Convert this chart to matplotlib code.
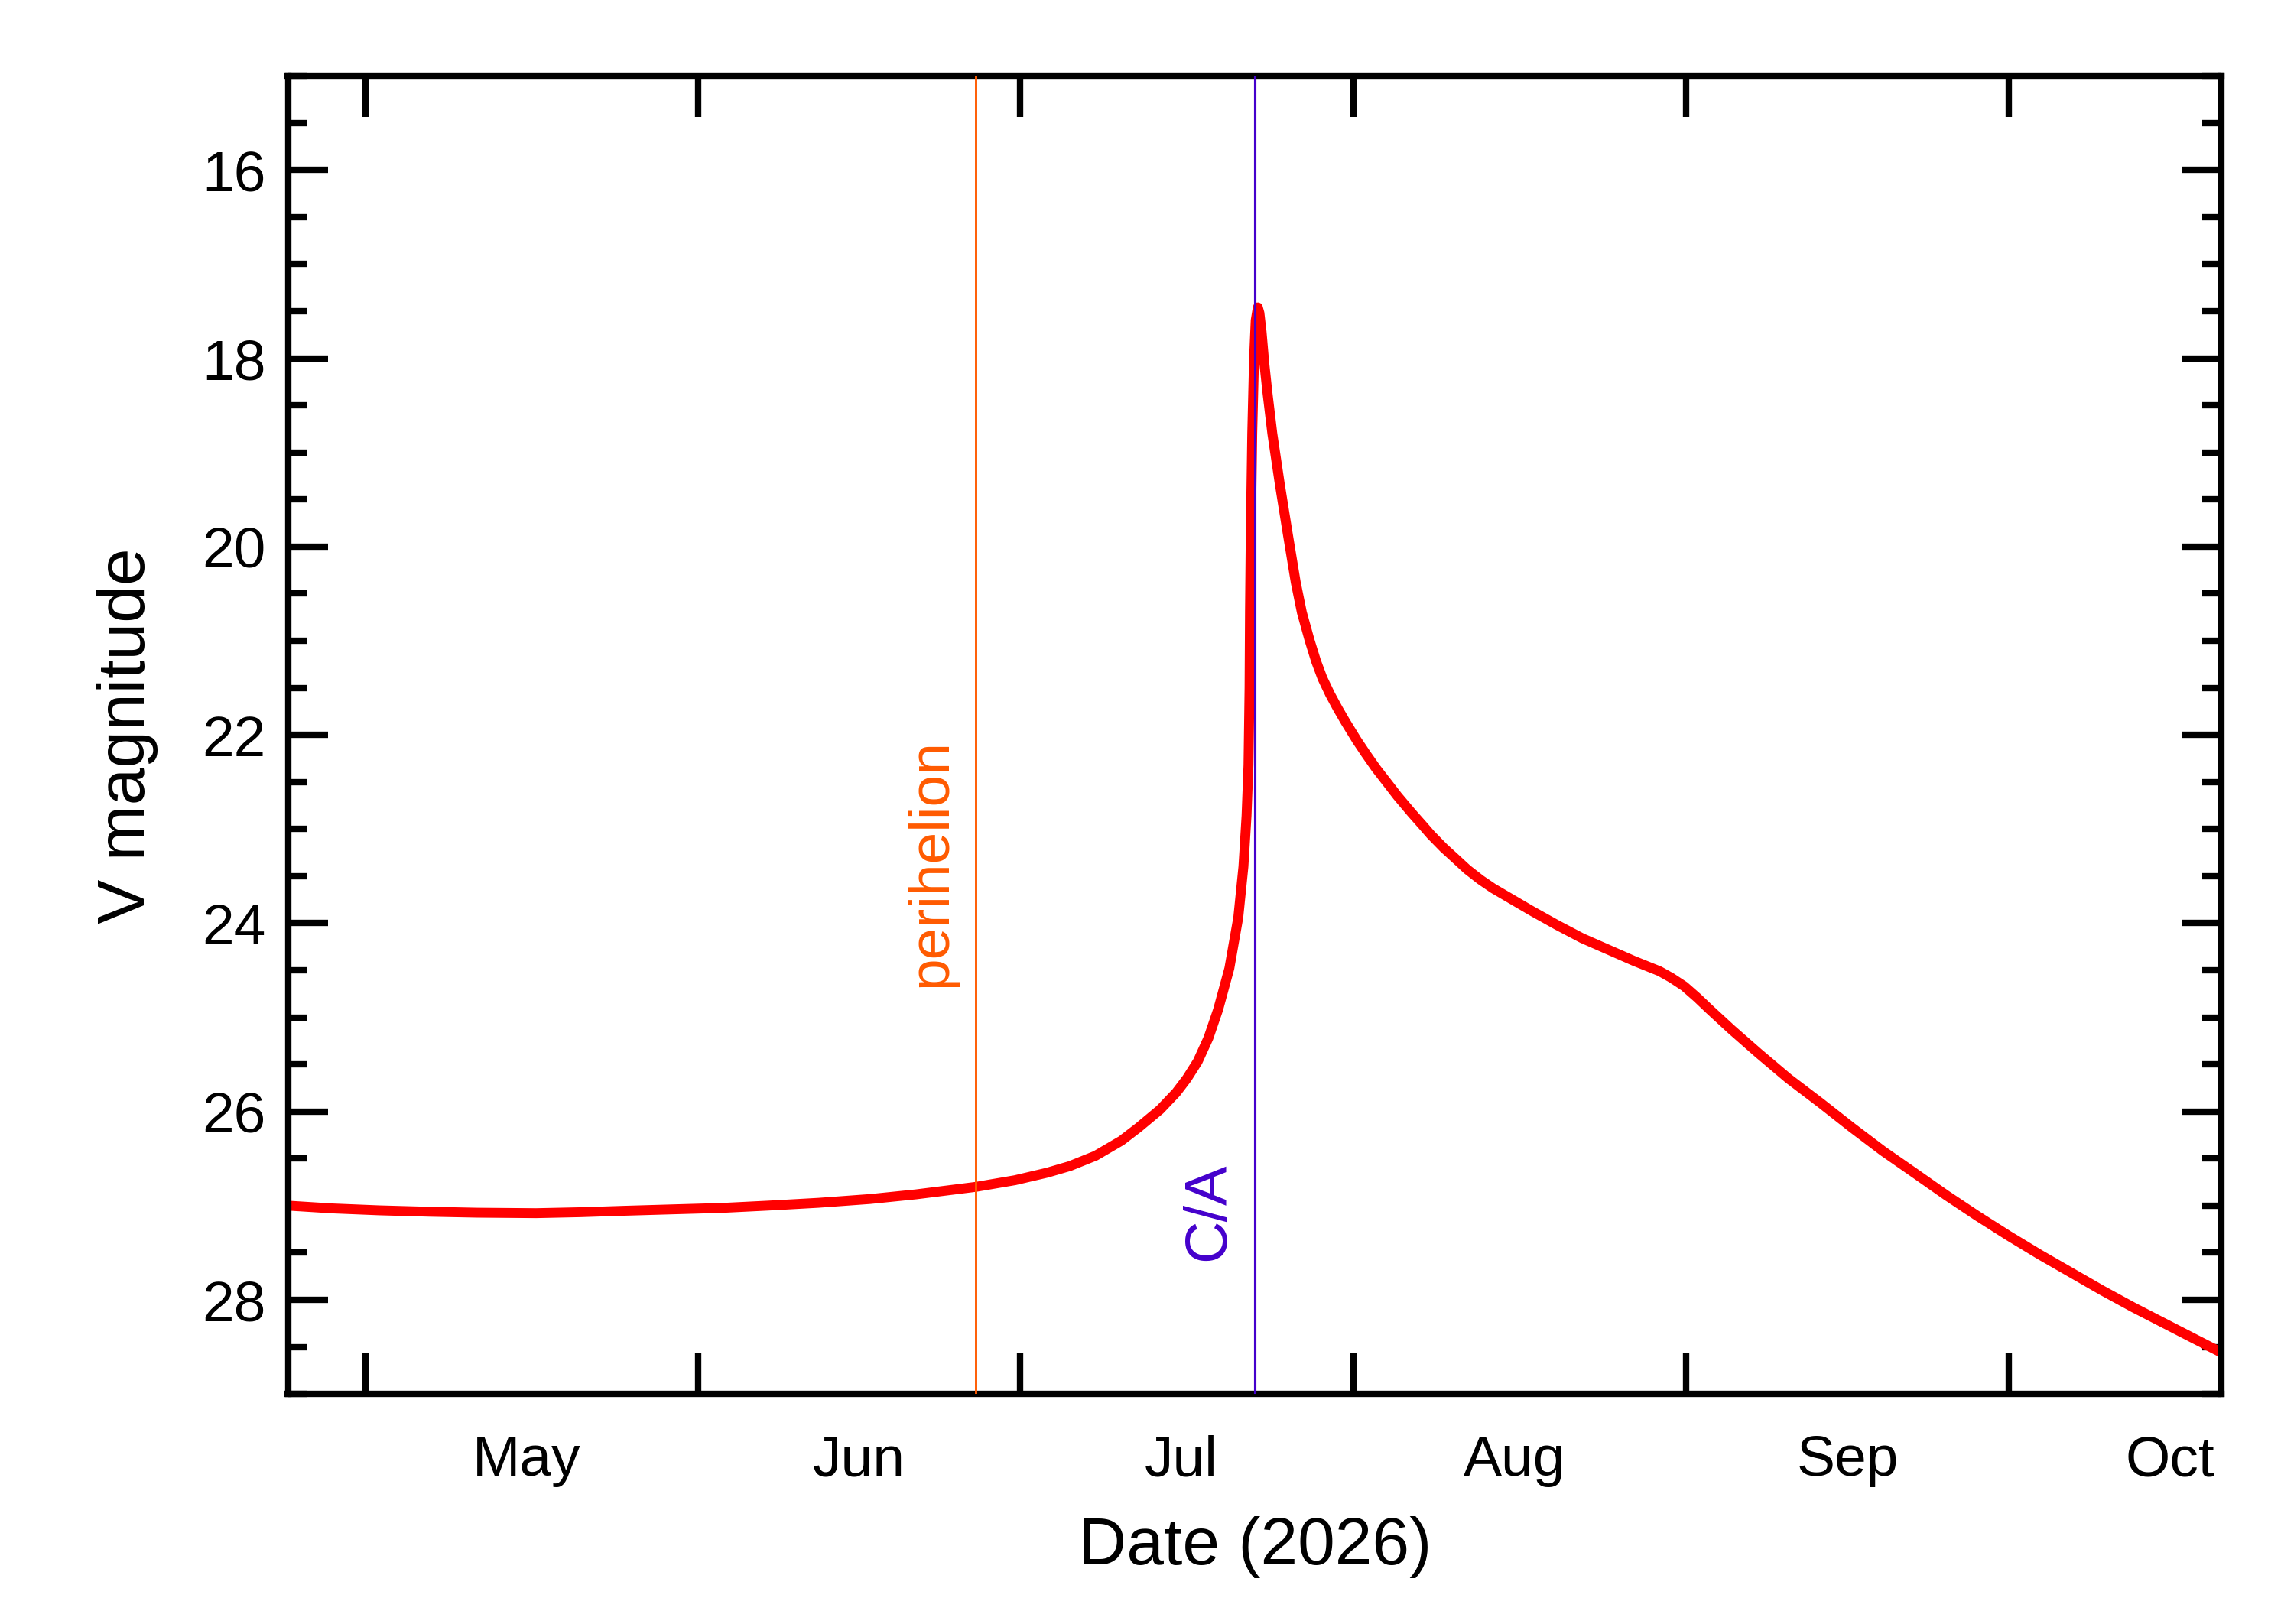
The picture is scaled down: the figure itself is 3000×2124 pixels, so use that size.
import numpy as np
import matplotlib
matplotlib.use('Agg')
import matplotlib.pyplot as plt
import matplotlib.dates as mdates
from matplotlib.ticker import FixedLocator, NullFormatter, FixedFormatter, MultipleLocator

plt.rcParams['font.family'] = ['Liberation Sans', 'DejaVu Sans']

t0 = np.datetime64('2026-05-01T00:00')

# days after 2026-05-01 and V magnitude
days = [-7.2, -3.0, 1.3, 6.0, 10.4, 15.9, 20.0, 24.0, 28.5, 33.1,
        37.5, 42.2, 47.0, 51.3, 56.9, 60.5, 63.5, 65.6, 68.0, 70.4,
        72.0, 74.0, 75.5, 76.5, 77.5, 78.5, 79.4, 80.45, 81.28, 81.76,
        82.05, 82.23, 82.33, 82.37, 82.44, 82.58, 82.75, 82.9, 83.1, 83.25,
        83.45, 83.7, 84.0, 84.45, 85.15, 85.91, 86.63, 87.2, 87.93, 88.53,
        89.12, 89.83, 90.54, 91.25, 92.3, 93.15, 94.1, 95.29, 96.1, 97.43,
        98.4, 99.2, 100.4, 101.46, 102.6, 103.84, 105.0, 106.2, 108.6, 110.96,
        113.3, 115.7, 118.1, 120.5, 121.6, 122.8, 124.0, 125.2, 127.2, 129.7,
        132.5, 135.5, 138.4, 141.3, 144.2, 147.2, 150.1, 153.0, 155.9, 158.8,
        161.7, 164.6, 167.5, 170.4, 172.8]
vmag = [27.00, 27.03, 27.05, 27.065, 27.075, 27.08, 27.07, 27.055, 27.04, 27.025,
        27.00, 26.97, 26.93, 26.88, 26.80, 26.73, 26.65, 26.58, 26.47, 26.31,
        26.17, 25.98, 25.80, 25.65, 25.47, 25.22, 24.92, 24.48, 23.94, 23.40,
        22.86, 22.32, 21.50, 20.69, 19.88, 18.80, 18.00, 17.60, 17.46, 17.52,
        17.72, 18.05, 18.37, 18.80, 19.34, 19.88, 20.38, 20.70, 21.00, 21.22,
        21.40, 21.57, 21.72, 21.86, 22.055, 22.20, 22.355, 22.53, 22.65, 22.83,
        22.955, 23.06, 23.20, 23.31, 23.43, 23.54, 23.63, 23.71, 23.87, 24.02,
        24.16, 24.28, 24.40, 24.51, 24.58, 24.67, 24.79, 24.92, 25.13, 25.38,
        25.65, 25.91, 26.17, 26.42, 26.65, 26.89, 27.11, 27.32, 27.52, 27.71,
        27.90, 28.08, 28.25, 28.42, 28.56]

perihelion_day = 56.87
ca_day = 82.8

month_starts = ['2026-05-01', '2026-06-01', '2026-07-01', '2026-08-01', '2026-09-01', '2026-10-01']
month_labels = ['May', 'Jun', 'Jul', 'Aug', 'Sep', 'Oct']


def to_date(d):
    return t0 + (np.asarray(d, dtype=float) * 86400).astype('timedelta64[s]')


fig = plt.figure(figsize=(10, 7.0833), dpi=300)
ax = fig.add_axes([0.1255, 0.1416, 0.8428, 0.8113])

ax.plot(to_date(days), vmag, color='#ff0000', lw=3.1, solid_joinstyle='round',
        solid_capstyle='butt', zorder=2)
ax.axvline(to_date(perihelion_day), color='#ff5a00', lw=0.7, zorder=3)
ax.axvline(to_date(ca_day), color='#4400cc', lw=0.75, zorder=3)

ax.text(mdates.date2num(to_date(perihelion_day - 1.75)), 24.67, 'perihelion', rotation=90,
        ha='right', va='bottom', color='#ff5a00', fontsize=18)
ax.text(mdates.date2num(to_date(ca_day - 1.65)), 27.58, 'C/A', rotation=90,
        ha='right', va='bottom', color='#4400cc', fontsize=18.5)

ax.set_xlim(mdates.date2num(to_date(ca_day - 90)), mdates.date2num(to_date(ca_day + 90)))
ax.set_ylim(29, 15)

major_x = [mdates.date2num(np.datetime64(m)) for m in month_starts]
mid_x = [x + 15 for x in major_x]
ax.xaxis.set_major_locator(FixedLocator(major_x))
ax.xaxis.set_major_formatter(NullFormatter())
ax.xaxis.set_minor_locator(FixedLocator(mid_x))
ax.xaxis.set_minor_formatter(FixedFormatter(month_labels))

ax.yaxis.set_major_locator(MultipleLocator(2))
ax.yaxis.set_minor_locator(MultipleLocator(0.5))

ax.tick_params(axis='both', which='both', direction='in', top=True, right=True,
               width=2.0, labelsize=18, color='black')
ax.tick_params(axis='x', which='major', length=13)
ax.tick_params(axis='x', which='minor', length=0, pad=12.5)
ax.tick_params(axis='y', which='major', length=12.5, pad=7)
ax.tick_params(axis='y', which='minor', length=6)

for s in ax.spines.values():
    s.set_linewidth(2.0)

ax.set_xlabel('Date (2026)', fontsize=21)
ax.set_ylabel('V magnitude', fontsize=21)
ax.xaxis.set_label_coords(0.5, -0.092)
ax.yaxis.set_label_coords(-0.067, 0.5)

fig.savefig('out.png', dpi=300)
